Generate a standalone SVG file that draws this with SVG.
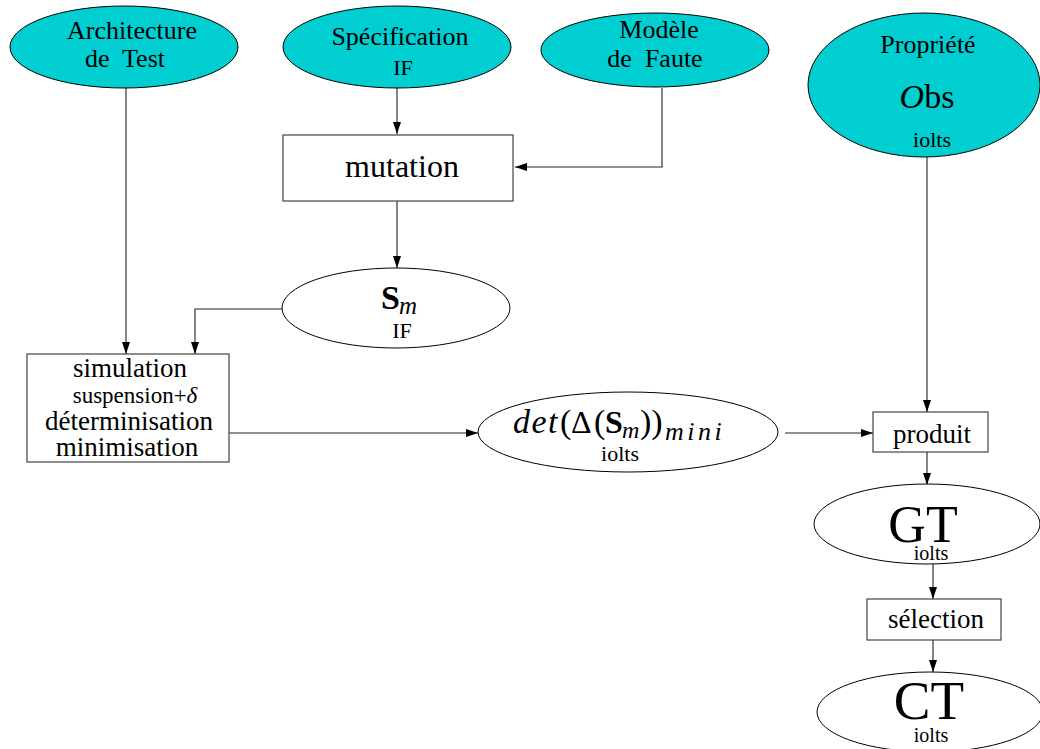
<svg xmlns="http://www.w3.org/2000/svg" width="1040" height="749" viewBox="0 0 1040 749" font-family="'Liberation Serif', 'Times New Roman', serif">
<defs>
<marker id="ah" viewBox="0 0 12 8" markerWidth="12" markerHeight="8" refX="12" refY="4" orient="auto" markerUnits="userSpaceOnUse">
<path d="M0,0 L12,4 L0,8 z" fill="#000"/>
</marker>
</defs>
<style>
text{font-family:"Liberation Serif","Times New Roman",serif;fill:#000;text-anchor:middle}
.in{fill:#00CED1;stroke:#000;stroke-width:1}
.el{fill:#fff;stroke:#000;stroke-width:1}
.bx{fill:#fff;stroke:#444;stroke-width:1.2}
.c{fill:none;stroke:#222;stroke-width:1.1;marker-end:url(#ah)}
.t26{font-size:26px}
.t22{font-size:22px}
.it{font-style:italic}
.st{text-anchor:start}
</style>
<g id="connectors">
<path class="c" d="M397,88 V134"/>
<path class="c" d="M662,88 V167 H515"/>
<path class="c" d="M397,201 V268"/>
<path class="c" d="M282,309 H195 V354"/>
<path class="c" d="M126,88 V354"/>
<path class="c" d="M229,433 H478"/>
<path class="c" d="M785,433 H873"/>
<path class="c" d="M927,157 V412"/>
<path class="c" d="M927,452 V485"/>
<path class="c" d="M933,563 V599"/>
<path class="c" d="M933,640 V672"/>
</g>
<g id="arch">
<ellipse class="in" cx="124" cy="47" rx="114" ry="41"/>
<text class="t26" x="132" y="39">Architecture</text>
<text class="t26" x="125" y="67" style="white-space:pre">de  Test</text>
</g>
<g id="spec">
<ellipse class="in" cx="397" cy="47" rx="114" ry="41"/>
<text class="t26" x="400" y="45">Spécification</text>
<text class="t22" x="403" y="75">IF</text>
</g>
<g id="modele">
<ellipse class="in" cx="655" cy="50" rx="114" ry="37"/>
<text class="t26" x="659" y="38">Modèle</text>
<text class="t26" x="655" y="67" style="white-space:pre">de  Faute</text>
</g>
<g id="propriete">
<ellipse class="in" cx="924" cy="85" rx="116" ry="72"/>
<text class="t26" x="928" y="53">Propriété</text>
<text x="927" y="108" font-size="34"><tspan class="it">O</tspan>bs</text>
<text class="t22" x="932" y="147">iolts</text>
</g>
<g id="mutation">
<rect class="bx" x="283" y="135" width="230" height="66"/>
<text x="402" y="177" font-size="32">mutation</text>
</g>
<g id="sm">
<ellipse class="el" cx="396" cy="308" rx="114" ry="40"/>
<text class="st" x="381" y="309" font-size="34" font-weight="bold">S</text>
<text class="st it" x="399" y="314" font-size="25">m</text>
<text class="t22" x="402" y="338">IF</text>
</g>
<g id="simulation">
<rect class="bx" x="27" y="354" width="202" height="108"/>
<text x="130" y="377" font-size="27">simulation</text>
<text x="135" y="403" font-size="23">suspension+<tspan class="it">δ</tspan></text>
<text x="129" y="430" font-size="27">déterminisation</text>
<text x="127" y="456" font-size="27">minimisation</text>
</g>
<g id="det">
<ellipse class="el" cx="628" cy="432" rx="150" ry="40"/>
<text class="st it" x="513" y="433" font-size="34" letter-spacing="1.5">det</text>
<text class="st" x="560" y="433" font-size="34">(</text>
<text class="st" x="571" y="433" font-size="32">Δ</text>
<text class="st" x="594" y="433" font-size="34">(</text>
<text class="st" x="605" y="433" font-size="32" font-weight="bold">S</text>
<text class="st it" x="622" y="438" font-size="24">m</text>
<text class="st" x="640" y="433" font-size="34">))</text>
<text class="st it" x="665" y="440" font-size="26" letter-spacing="3.5">mini</text>
<text class="t22" x="620" y="461">iolts</text>
</g>
<g id="produit">
<rect class="bx" x="873" y="412" width="115" height="40"/>
<text x="932" y="443" font-size="27">produit</text>
</g>
<g id="gt">
<ellipse class="el" cx="927" cy="524" rx="113" ry="40"/>
<text x="923" y="542" font-size="52">GT</text>
<text x="931" y="560" font-size="20">iolts</text>
</g>
<g id="selection">
<rect class="bx" x="867" y="599" width="134" height="41"/>
<text x="936" y="628" font-size="27">sélection</text>
</g>
<g id="ct">
<ellipse class="el" cx="930" cy="712" rx="113" ry="40"/>
<text x="929" y="719" font-size="55">CT</text>
<text x="931" y="742" font-size="20">iolts</text>
</g>
</svg>
